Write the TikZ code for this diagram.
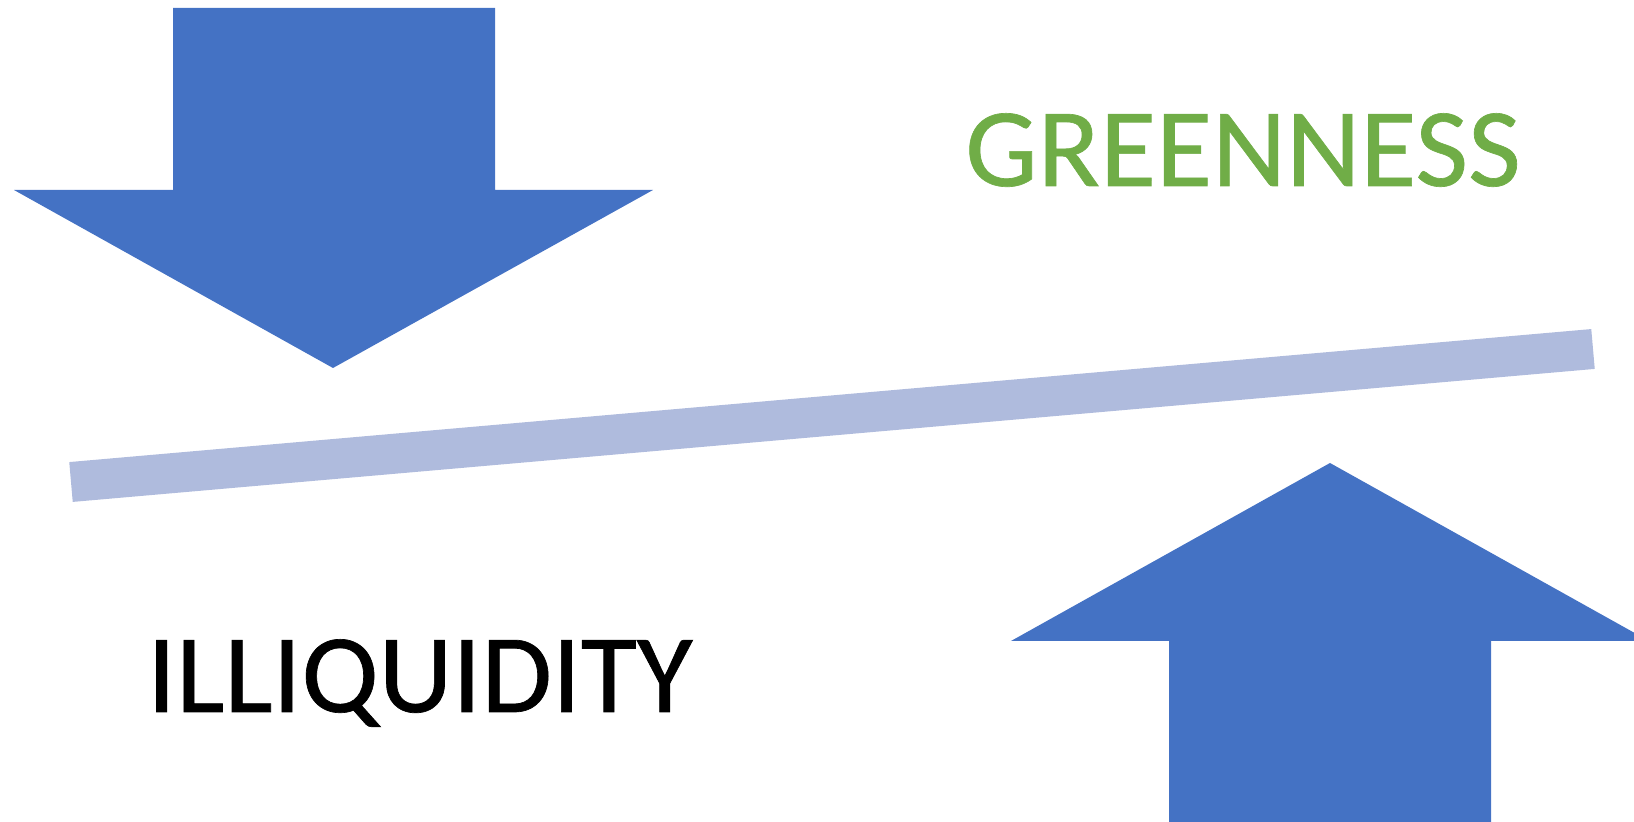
\documentclass[tikz,border=0pt]{standalone}
\usepackage{fontspec}
\setmainfont[FakeStretch=1.025,FakeBold=0.6]{Carlito}
\usepackage{tikz}

\definecolor{arrowblue}{HTML}{4472C4}
\definecolor{barblue}{HTML}{AFBBDD}
\definecolor{labelgreen}{HTML}{70AD47}

\begin{document}
\begin{tikzpicture}[x=0.5pt,y=-0.5pt,
  bigarrow/.style={fill=arrowblue, draw=none},
  lever/.style={draw=barblue, line width=20pt},
  every node/.style={inner sep=0pt, font=\fontsize{56}{67}\selectfont}]

% Fix the page to the size of the reference
\useasboundingbox (0,0) rectangle (1634,822);
\clip (0,0) rectangle (1634,822);

% Arrow pressing down from the top
\fill[bigarrow] (173,8) -- (495,8) -- (495,190) -- (653,190)
  -- (333,368) -- (14,190) -- (173,190) -- cycle;

% Tilted beam
\coordinate (beamL) at (71,482);
\coordinate (beamR) at (1593,349);
\draw[lever] (beamL) -- (beamR);

% Arrow pushing up from the bottom
\fill[bigarrow] (1169,822) -- (1169,641) -- (1011,641) -- (1330,463)
  -- (1649,641) -- (1491,641) -- (1491,822) -- cycle;

% Labels
\node[anchor=base, text=labelgreen] (green) at (1243,186) {GREENNESS};
\node[anchor=base, text=black] (illiq) at (420,712) {ILLIQUIDITY};

\end{tikzpicture}
\end{document}
